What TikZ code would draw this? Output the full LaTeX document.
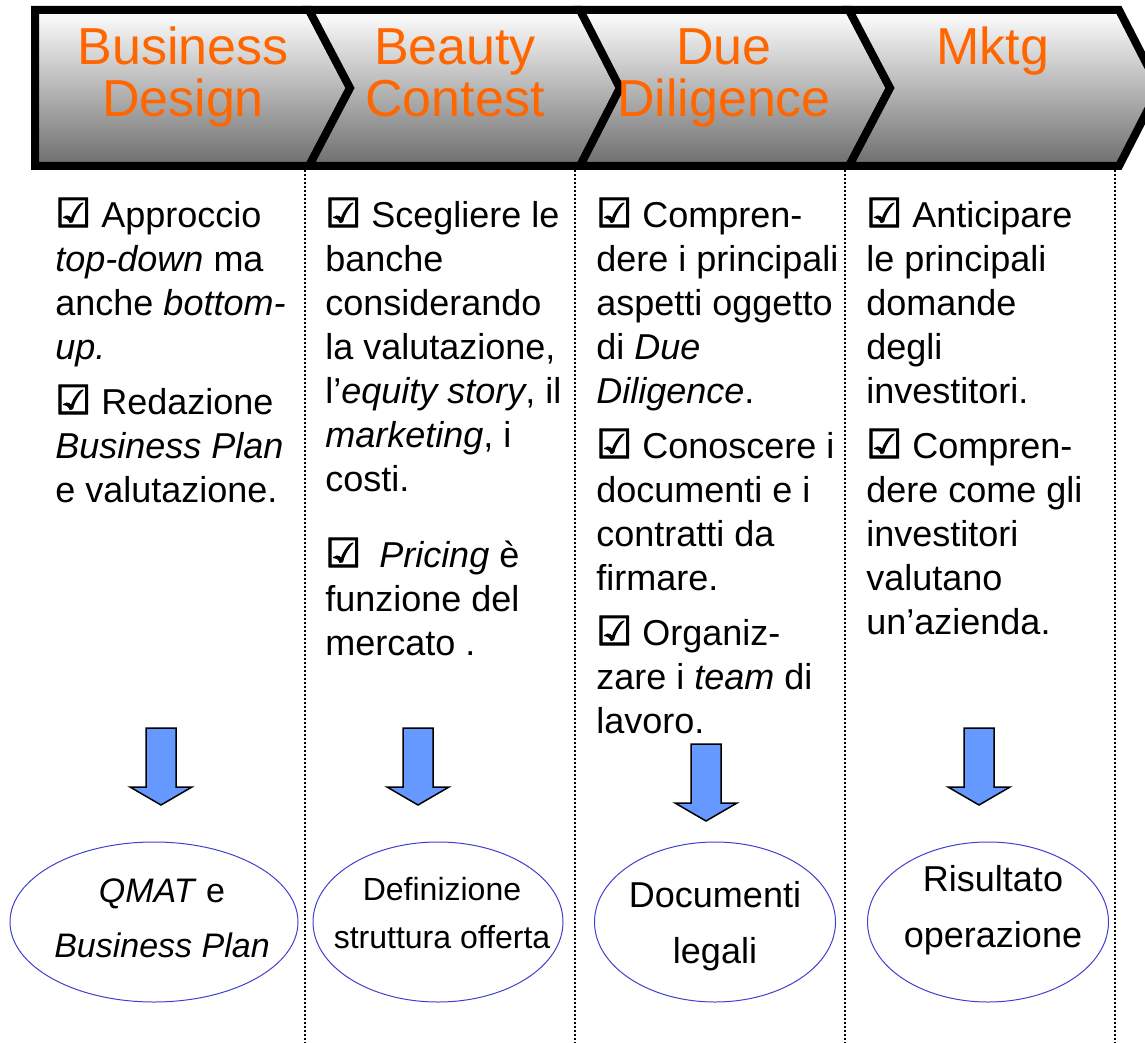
\documentclass[tikz,border=0pt]{standalone}
\usepackage{fontspec}
\setmainfont{Liberation Sans}
\newfontfamily\symfont[FakeBold=2.5]{DejaVu Sans}
\usetikzlibrary{shapes.geometric}

\definecolor{phaseOrange}{RGB}{255,102,0}
\definecolor{arrowBlue}{RGB}{102,153,255}
\definecolor{ellBlue}{RGB}{64,64,204}

\newcommand{\cb}{{\symfont\fontsize{20}{22}\selectfont ☑}}

\tikzset{
  phase/.style={draw=black, line width=4pt, top color=white, bottom color=black!57},
  phasetext/.style={text=phaseOrange, font=\fontsize{26}{26}\selectfont, align=center, anchor=base, inner sep=0},
  bodytext/.style={font=\fontsize{18}{22}\selectfont, align=left, anchor=base west, inner sep=0},
  sep/.style={line width=1pt, dash pattern=on 1pt off 1pt},
  downarrow/.style={draw=black, line width=0.75pt, fill=arrowBlue},
  result/.style={ellipse, draw=ellBlue, line width=0.5pt, inner sep=0, minimum height=80pt},
  restext/.style={align=center, anchor=base, inner sep=0},
}

\begin{document}
\begin{tikzpicture}[x=0.5pt, y=-0.5pt]
    \useasboundingbox (0,0) rectangle (1145,1043);

    % phases
    \draw[phase] (35,10) -- (309,10) -- (350,88) -- (309,166) -- (35,166) -- cycle;
    \draw[phase] (309,10) -- (580,10) -- (620,88) -- (580,166) -- (309,166) -- (350,88) -- cycle;
    \draw[phase] (580,10) -- (849,10) -- (890,88) -- (849,166) -- (580,166) -- (620,88) -- cycle;
    \draw[phase] (849,10) -- (1119,10) -- (1159,88) -- (1119,166) -- (849,166) -- (890,88) -- cycle;

    % base anchor sits on the last line
    \node[phasetext] (BD) at (183,117) {Business\\Design};
    \node[phasetext] (BC) at (455,117) {Beauty\\Contest};
    \node[phasetext] (DD) at (724,117) {Due\\Diligence};
    \node[phasetext] (MK) at (993,65) {Mktg};

    % column separators
    \draw[sep] (305,170) -- (305,1043);
    \draw[sep] (575,170) -- (575,1043);
    \draw[sep] (845,170) -- (845,1043);
    \draw[sep] (1115,170) -- (1115,1043);

    \node[bodytext] (BDtxt) at (55,502) {\cb{} Approccio\\
      \textit{top-down} ma\\
      anche \textit{bottom-}\\
      \textit{up.}\\[5.5pt]
      \cb{} Redazione\\
      \textit{Business Plan}\\
      e valutazione.};
    \node[bodytext] (BCtxt) at (325,655) {\cb{} Scegliere le\\
      banche\\
      considerando\\
      la valutazione,\\
      l’\textit{equity story}, il\\
      \textit{marketing}, i\\
      costi.\\[16pt]
      \cb\hspace{9pt}\textit{Pricing} è\\
      funzione del\\
      mercato .};
    \node[bodytext] (DDtxt) at (596,733) {\cb{} Compren-\\
      dere i principali\\
      aspetti oggetto\\
      di \textit{Due}\\
      \textit{Diligence}.\\[5.5pt]
      \cb{} Conoscere i\\
      documenti e i\\
      contratti da\\
      firmare.\\[5.5pt]
      \cb{} Organiz-\\
      zare i \textit{team} di\\
      lavoro.};
    \node[bodytext] (MKtxt) at (866,634) {\cb{} Anticipare\\
      le principali\\
      domande\\
      degli\\
      investitori.\\[5.5pt]
      \cb{} Compren-\\
      dere come gli\\
      investitori\\
      valutano\\
      un’azienda.};

    % block arrows
    \foreach \x/\y in {161/728, 418/728, 706/744, 979/728}
      \draw[downarrow] (\x-15,\y) -- (\x+15,\y) -- (\x+15,\y+59) -- (\x+31,\y+59)
        -- (\x,\y+77) -- (\x-31,\y+59) -- (\x-15,\y+59) -- cycle;

    % results
    \node[result, minimum width=144pt] (BDres) at (154,922) {};
    \node[result, minimum width=125pt] (BCres) at (438,922) {};
    \node[result, minimum width=120.5pt] (DDres) at (715,922) {};
    \node[result, minimum width=120.5pt] (MKres) at (988,922) {};

    \node[restext, font=\fontsize{17}{27.5}\selectfont] (BDout) at (162,957) {\textit{QMAT} e\\\textit{Business Plan}};
    \node[restext, font=\fontsize{16}{24}\selectfont] (BCout) at (442,948) {Definizione\\struttura offerta};
    \node[restext, font=\fontsize{18}{28}\selectfont] (DDout) at (715,963) {Documenti\\legali};
    \node[restext, font=\fontsize{18}{28}\selectfont] (MKout) at (993,947) {Risultato\\operazione};
\end{tikzpicture}
\end{document}
